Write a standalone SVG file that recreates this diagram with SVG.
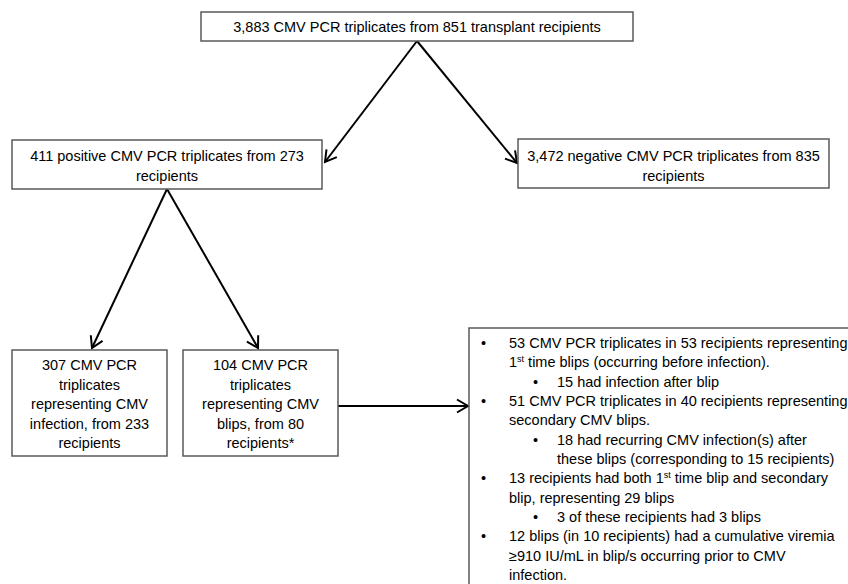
<svg xmlns="http://www.w3.org/2000/svg" width="848" height="584" viewBox="0 0 848 584">
<style>
.box{fill:#fff;stroke:#595959;stroke-width:1.5}
text{font-family:"Liberation Sans",Arial,sans-serif;font-size:14.5px;fill:#000}
.c{text-anchor:middle}
.sup{font-size:9px}
.conn{stroke:#000;stroke-width:2;fill:none;marker-end:url(#arr)}
</style>
<defs>
<marker id="arr" markerUnits="userSpaceOnUse" markerWidth="16" markerHeight="16" viewBox="0 0 16 16" refX="14" refY="8" orient="auto">
<path d="M3,1.5 L14,8 L3,14.5" fill="none" stroke="#000" stroke-width="2"/>
</marker>
</defs>
<rect width="848" height="584" fill="#fff"/>
<g id="connectors">
<line class="conn" x1="417" y1="41" x2="325" y2="162"/>
<line class="conn" x1="417" y1="41" x2="517" y2="163"/>
<line class="conn" x1="167" y1="189" x2="92" y2="348"/>
<line class="conn" x1="167" y1="189" x2="258" y2="348"/>
<line class="conn" x1="338" y1="406" x2="468" y2="406"/>
</g>
<g id="n-total">
<rect class="box" x="201" y="12" width="432" height="29"/>
<text class="c" x="417" y="32">3,883 CMV PCR triplicates from 851 transplant recipients</text>
</g>
<g id="n-positive">
<rect class="box" x="12" y="140" width="310" height="49"/>
<text class="c" x="167" y="161">411 positive CMV PCR triplicates from 273</text>
<text class="c" x="167" y="181">recipients</text>
</g>
<g id="n-negative">
<rect class="box" x="518" y="139" width="311" height="49"/>
<text class="c" x="673.5" y="161">3,472 negative CMV PCR triplicates from 835</text>
<text class="c" x="673.5" y="181">recipients</text>
</g>
<g id="n-infection">
<rect class="box" x="12" y="350" width="155" height="106"/>
<text class="c" x="89.5" y="370">307 CMV PCR</text>
<text class="c" x="89.5" y="389.5">triplicates</text>
<text class="c" x="89.5" y="409">representing CMV</text>
<text class="c" x="89.5" y="428.5">infection, from 233</text>
<text class="c" x="89.5" y="448">recipients</text>
</g>
<g id="n-blips">
<rect class="box" x="183" y="350" width="155" height="106"/>
<text class="c" x="260.5" y="370">104 CMV PCR</text>
<text class="c" x="260.5" y="389.5">triplicates</text>
<text class="c" x="260.5" y="409">representing CMV</text>
<text class="c" x="260.5" y="428.5">blips, from 80</text>
<text class="c" x="260.5" y="448">recipients*</text>
</g>
<g id="n-details">
<rect class="box" x="469" y="328" width="400" height="280"/>
<text x="481" y="348">•</text>
<text x="509" y="348">53 CMV PCR triplicates in 53 recipients representing</text>
<text x="509" y="367.3">1<tspan class="sup" dy="-5">st</tspan><tspan dy="5"> time blips (occurring before infection).</tspan></text>
<text x="533" y="386.7">•</text>
<text x="557" y="386.7">15 had infection after blip</text>
<text x="481" y="406">•</text>
<text x="509" y="406">51 CMV PCR triplicates in 40 recipients representing</text>
<text x="509" y="425.3">secondary CMV blips.</text>
<text x="533" y="444.7">•</text>
<text x="557" y="444.7">18 had recurring CMV infection(s) after</text>
<text x="557" y="464">these blips (corresponding to 15 recipients)</text>
<text x="481" y="483.3">•</text>
<text x="509" y="483.3">13 recipients had both 1<tspan class="sup" dy="-5">st</tspan><tspan dy="5"> time blip and secondary</tspan></text>
<text x="509" y="502.7">blip, representing 29 blips</text>
<text x="533" y="522">•</text>
<text x="557" y="522">3 of these recipients had 3 blips</text>
<text x="481" y="541.3">•</text>
<text x="509" y="541.3">12 blips (in 10 recipients) had a cumulative viremia</text>
<text x="509" y="560.7">≥910 IU/mL in blip/s occurring prior to CMV</text>
<text x="509" y="580">infection.</text>
</g>
</svg>
